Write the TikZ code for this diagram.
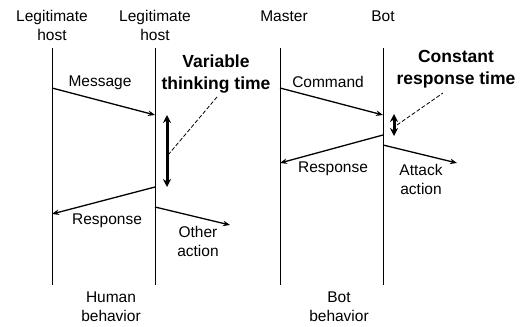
\documentclass[tikz,border=0pt]{standalone}
\usepackage{fontspec}
\setmainfont{Liberation Sans}
\usetikzlibrary{arrows.meta}
\begin{document}
\begin{tikzpicture}[x=1pt,y=-1pt,
  lbl/.style={font=\fontsize{15.5}{19}\selectfont, align=center, inner sep=0pt},
  blbl/.style={font=\fontsize{17.5}{22}\selectfont\bfseries, align=center, inner sep=0pt},
  life/.style={line width=0.8pt},
  msg/.style={line width=1.3pt, -{Stealth[length=7pt,width=5.5pt]}},
  span/.style={line width=3pt, {Stealth[length=8pt,width=8pt]}-{Stealth[length=8pt,width=8pt]}},
  note/.style={dashed, line width=0.8pt, dash pattern=on 4pt off 2pt}
]
\fill[white] (0,0) rectangle (521,326);
\useasboundingbox (0,0) rectangle (521,326);

% lifelines
\foreach \n/\x in {a/52, b/155, c/280, d/383} {
  \coordinate (\n top) at (\x,48);
  \coordinate (\n bot) at (\x,285);
  \draw[life] (\n top) -- (\n bot);
}

% lifeline headings
\node[lbl] (ha) at (52,25) {Legitimate\\host};
\node[lbl] (hb) at (155,25) {Legitimate\\host};
\node[lbl] (hc) at (284,16) {Master};
\node[lbl] (hd) at (383,16) {Bot};

% human exchange
\coordinate (m1) at (52,88);   \coordinate (m2) at (155,115);
\coordinate (r1) at (155,187); \coordinate (r2) at (52,214);
\coordinate (o1) at (155,207); \coordinate (o2) at (230,225);
\draw[msg] (m1) -- (m2);
\draw[msg] (r1) -- (r2);
\draw[msg] (o1) -- (o2);
\coordinate (t1) at (167,115); \coordinate (t2) at (167,187);
\draw[span] (t1) -- (t2);
\node[lbl] (lm) at (100,83) {Message};
\node[lbl] (lr) at (107,221) {Response};
\node[lbl] (lo) at (198,241) {Other\\action};
\node[blbl] (lv) at (216,74) {Variable\\thinking time};
\coordinate (v1) at (168,155); \coordinate (v2) at (217,97);
\draw[note] (v1) -- (v2);
\node[lbl] (lh) at (111,307) {Human\\behavior};

% bot exchange
\coordinate (c1) at (280,88);  \coordinate (c2) at (383,115);
\coordinate (s1) at (383,135); \coordinate (s2) at (280,163);
\coordinate (k1) at (383,145); \coordinate (k2) at (457,163);
\draw[msg] (c1) -- (c2);
\draw[msg] (s1) -- (s2);
\draw[msg] (k1) -- (k2);
\coordinate (u1) at (394,114); \coordinate (u2) at (394,136);
\draw[span] (u1) -- (u2);
\node[lbl] (lc) at (328,82) {Command};
\node[lbl] (ls) at (333,169) {Response};
\node[lbl] (lk) at (421,179) {Attack\\action};
\node[blbl] (lt) at (456,69) {Constant\\response time};
\coordinate (w1) at (397,125); \coordinate (w2) at (443,93);
\draw[note] (w1) -- (w2);
\node[lbl] (lb) at (339,307) {Bot\\behavior};
\end{tikzpicture}
\end{document}
